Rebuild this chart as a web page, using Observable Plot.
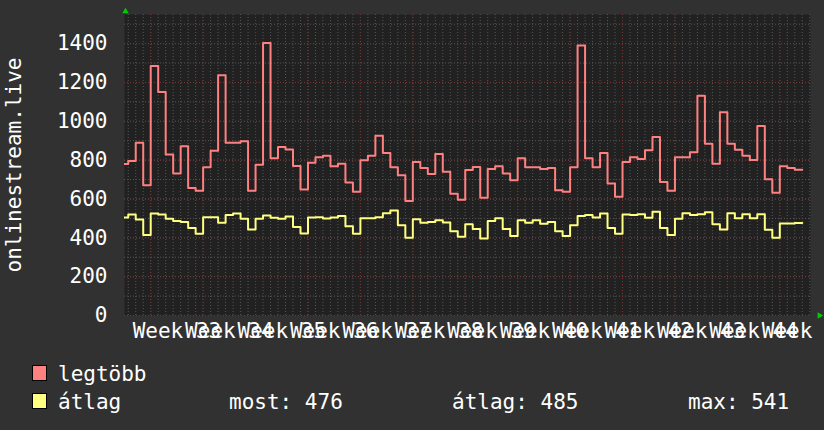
<!DOCTYPE html>
<html>
<head>
<meta charset="utf-8">
<script src="https://cdn.jsdelivr.net/npm/d3@7"></script>
<script src="https://cdn.jsdelivr.net/npm/@observablehq/plot@0.6"></script>
<style>
  html, body { margin: 0; padding: 0; background: #313131; }
  #wrap { width: 824px; height: 430px; overflow: hidden; background: #313131; }
  #wrap svg { display: block; }
</style>
</head>
<body>
<div id="wrap"></div>
<script>
// ---- data (daily values; day 0 = Monday of week 33) ----
const firstDay = -4;
const maxValues = [
  780, 795, 889, 671,
  1285, 1151, 829, 731, 872, 657, 642,
  764, 848, 1237, 889, 889, 897, 642,
  776, 1403, 810, 868, 855, 770, 649,
  786, 815, 822, 769, 781, 685, 637,
  800, 822, 925, 837, 764, 722, 590,
  791, 760, 729, 832, 740, 627, 596,
  749, 765, 606, 755, 769, 731, 697,
  810, 764, 764, 755, 759, 645, 637,
  764, 1391, 810, 764, 837, 680, 611,
  791, 815, 806, 851, 919, 688, 642,
  815, 815, 841, 1131, 884, 781, 1047,
  884, 853, 822, 801, 976, 702, 632,
  769, 760, 750
];
const avgValues = [
  505, 520, 494, 414,
  525, 520, 498, 487, 482, 451, 421,
  506, 506, 477, 517, 525, 498, 443,
  498, 515, 503, 498, 510, 456, 422,
  505, 506, 500, 505, 513, 460, 421,
  501, 501, 506, 527, 541, 465, 400,
  496, 477, 481, 491, 479, 434, 405,
  470, 446, 397, 487, 501, 446, 409,
  491, 477, 491, 472, 481, 434, 409,
  465, 513, 518, 505, 525, 451, 421,
  520, 517, 522, 503, 534, 451, 415,
  498, 527, 517, 522, 532, 470, 443,
  527, 501, 522, 501, 522, 441, 400,
  474, 474, 476
];
const weekLabels = ["Week 33","Week 34","Week 35","Week 36","Week 37","Week 38","Week 39",
                    "Week 40","Week 41","Week 42","Week 43","Week 44","Week 45"];
const weekStarts = [0, 7, 14, 21, 28, 35, 42, 49, 56, 63, 70, 77, 84];
const yTicks = [0, 200, 400, 600, 800, 1000, 1200, 1400];
const yMinorTicks = [0,100,200,300,400,500,600,700,800,900,1000,1100,1200,1300,1400,1500];
const yTitle = "onlinestream.live";
const seriesNames = ["legtöbb", "átlag"];
const seriesColors = ["#ff8080", "#ffff80"];
const statLabels = ["most: 476", "átlag: 485", "max: 541"];

// ---- tables ----
function toRows(vals) {
  const rows = vals.map((v, i) => ({day: firstDay + i, value: v}));
  rows.push({day: firstDay + vals.length, value: vals[vals.length - 1]}); // close last step
  return rows;
}
const maxRows = toRows(maxValues);
const avgRows = toRows(avgValues);
const dayTicks = d3.range(firstDay + 1, firstDay + maxValues.length + 2);
const weekMid = weekStarts.map(d => d + 3.5);

const FONT = "DejaVu Sans Mono";
const gridMinor = "#575757";
const gridMajor = "#7a3434";

const chart = Plot.plot({
  width: 824,
  height: 350,
  marginLeft: 124,
  marginRight: 14,
  marginTop: 14,
  marginBottom: 35,
  style: {background: "#313131", color: "#ffffff", fontFamily: FONT, fontSize: "21px", overflow: "visible"},
  x: {domain: [-3.5, 88.1]},
  y: {domain: [0, 1550]},
  marks: [
    Plot.frame({fill: "#212121", stroke: null}),
    Plot.gridX({ticks: dayTicks, stroke: gridMinor, strokeOpacity: 1, strokeDasharray: "1,2"}),
    Plot.gridY({ticks: yMinorTicks, stroke: gridMinor, strokeOpacity: 1, strokeDasharray: "1,2"}),
    Plot.gridX({ticks: weekStarts, stroke: gridMajor, strokeOpacity: 1, strokeDasharray: "1,2"}),
    Plot.gridY({ticks: yTicks, stroke: gridMajor, strokeOpacity: 1, strokeDasharray: "1,2"}),
    Plot.line(maxRows, {x: "day", y: "value", curve: "step-after", stroke: seriesColors[0], strokeWidth: 2, clip: true}),
    Plot.line(avgRows, {x: "day", y: "value", curve: "step-after", stroke: seriesColors[1], strokeWidth: 2, clip: true}),
    Plot.axisY({ticks: yTicks, tickFormat: d => String(d), tickSize: 0, tickPadding: 17, label: null,
                fontSize: 21, fill: "#ffffff"}),
    Plot.axisX({ticks: weekMid, tickFormat: d => weekLabels[weekMid.indexOf(d)], tickSize: 0, tickPadding: 8,
                label: null, fontSize: 21, fill: "#ffffff"}),
    Plot.text([yTitle], {frameAnchor: "left", textAnchor: "middle", rotate: -90, dx: -104, lineAnchor: "bottom",
                         fontSize: 21, fill: "#ffffff", text: d => d}),
    Plot.dot([0], {frameAnchor: "top-left", symbol: "triangle", r: 2.4, fill: "#00cc00", stroke: null, dx: 1, dy: -3}),
    Plot.dot([0], {frameAnchor: "bottom-right", symbol: "triangle", r: 2.4, fill: "#00cc00", stroke: null, rotate: 90, dx: 9, dy: 0})
  ]
});
document.getElementById("wrap").appendChild(chart);

// ---- legend below the chart ----
const leg = d3.create("svg").attr("width", 824).attr("height", 80)
  .style("display", "block").style("background", "#313131")
  .style("font-family", FONT).style("font-size", "21px");
const rowsY = [31, 59];
seriesNames.forEach((name, i) => {
  leg.append("rect").attr("x", 32.5).attr("y", rowsY[i] - 15.5).attr("width", 14).attr("height", 15)
    .attr("fill", seriesColors[i]).attr("stroke", "#000").attr("stroke-width", 1);
  leg.append("text").attr("x", 58).attr("y", rowsY[i]).attr("fill", "#fff").text(name);
});
const statX = [229, 452, 688];
statLabels.forEach((s, i) => {
  leg.append("text").attr("x", statX[i]).attr("y", rowsY[1]).attr("fill", "#fff")
    .attr("xml:space", "preserve").style("white-space", "pre").text(s);
});
document.getElementById("wrap").appendChild(leg.node());
</script>
</body>
</html>
